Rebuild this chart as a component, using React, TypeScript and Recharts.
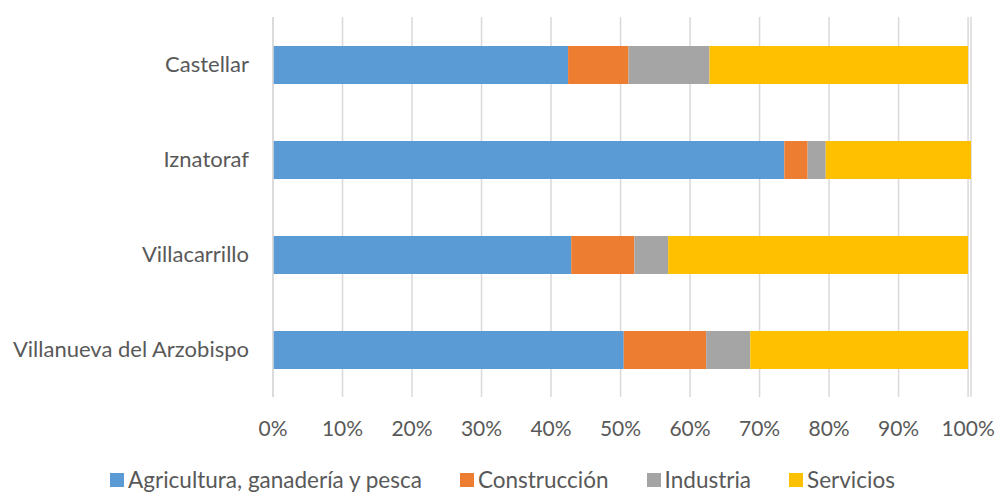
import React from "react";
import {
  Bar,
  BarChart,
  CartesianGrid,
  Legend,
  XAxis,
  YAxis,
} from "recharts";

const municipios = ["Castellar", "Iznatoraf", "Villacarrillo", "Villanueva del Arzobispo"];
const agricultura = [42.45, 73.56, 42.9, 50.46];
const construccion = [8.7, 3.36, 9.1, 11.86];
const industria = [11.65, 2.6, 4.85, 6.34];
const servicios = [37.2, 20.9, 43.15, 31.34];
const xTicks = [0, 10, 20, 30, 40, 50, 60, 70, 80, 90, 100];

const series = [
  { key: "agricultura", name: "Agricultura, ganadería y pesca", color: "#5B9BD5" },
  { key: "construccion", name: "Construcción", color: "#ED7D31" },
  { key: "industria", name: "Industria", color: "#A5A5A5" },
  { key: "servicios", name: "Servicios", color: "#FFC000" },
];

const data = municipios.map((m, i) => ({
  municipio: m,
  agricultura: agricultura[i],
  construccion: construccion[i],
  industria: industria[i],
  servicios: servicios[i],
}));

const FONT = "Lato, 'Noto Sans', sans-serif";
const TEXT = "#595959";

function LegendBox() {
  return (
    <div
      style={{
        display: "flex",
        justifyContent: "center",
        alignItems: "flex-end",
        height: 46,
        gap: 38,
        fontFamily: FONT,
        fontSize: 22.5,
        lineHeight: "26px",
        color: TEXT,
        paddingLeft: 34,
      }}
    >
      {series.map((s) => (
        <div key={s.key} style={{ display: "flex", alignItems: "center", gap: 4 }}>
          <span style={{ width: 14, height: 14, background: s.color, display: "inline-block" }} />
          <span>{s.name}</span>
        </div>
      ))}
    </div>
  );
}

export default function App() {
  return (
    <div style={{ position: "absolute", left: 0, top: 0, width: 997, height: 493, background: "#fff" }}>
      <BarChart
        width={997}
        height={493}
        data={data}
        layout="vertical"
        margin={{ top: 17, right: 26, left: 0, bottom: 0 }}
        barSize={38}
      >
        <CartesianGrid horizontal={false} stroke="#D9D9D9" strokeWidth={1.5} />
        <XAxis
          type="number"
          domain={[0, (dataMax: number) => Math.max(100, dataMax)]}
          ticks={xTicks}
          tickFormatter={(v) => `${v}%`}
          axisLine={false}
          tickLine={false}
          tickSize={0}
          tickMargin={24}
          height={50}
          tick={{ fill: TEXT, fontSize: 21, fontFamily: FONT }}
        />
        <YAxis
          type="category"
          dataKey="municipio"
          width={273}
          axisLine={{ stroke: "#D9D9D9", strokeWidth: 1.5 }}
          tickLine={false}
          tickSize={0}
          tickMargin={24}
          tick={{ fill: TEXT, fontSize: 22, fontFamily: FONT }}
        />
        <Legend verticalAlign="bottom" height={46} content={<LegendBox />} />
        {series.map((s) => (
          <Bar
            key={s.key}
            dataKey={s.key}
            name={s.name}
            stackId="a"
            fill={s.color}
            isAnimationActive={false}
          />
        ))}
      </BarChart>
    </div>
  );
}
